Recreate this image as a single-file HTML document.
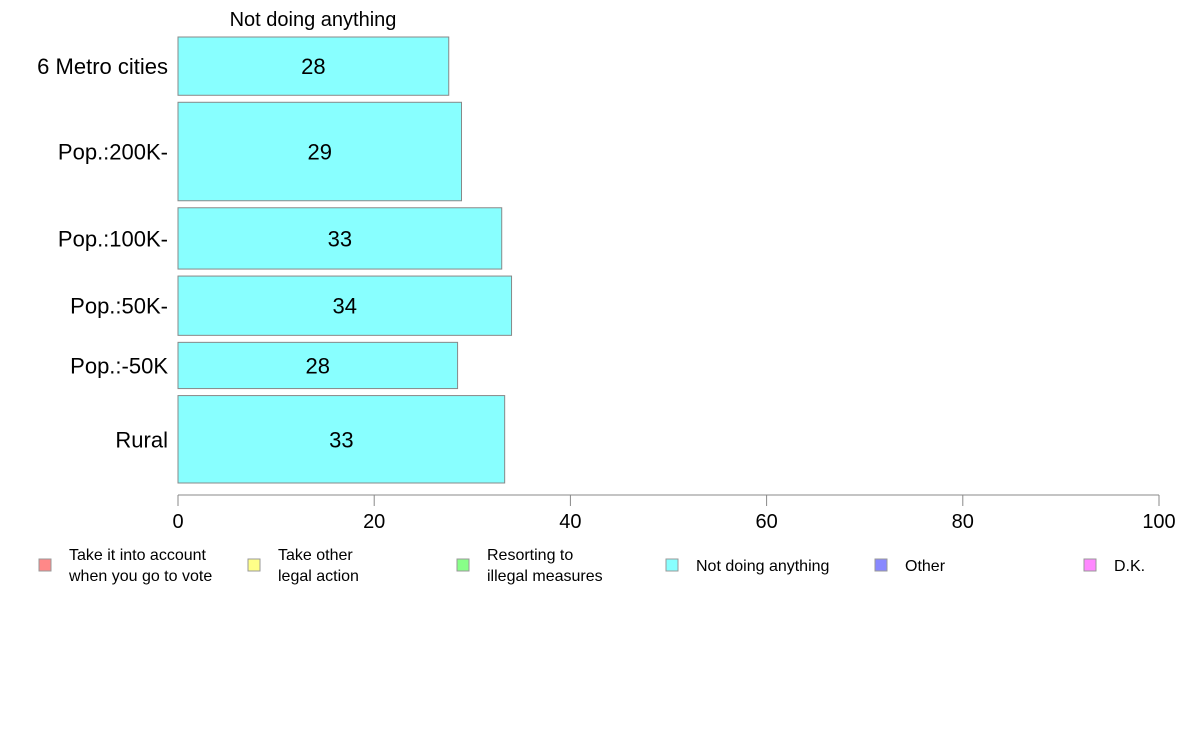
<!DOCTYPE html>
<html><head><meta charset="utf-8"><style>
body{margin:0;background:#fff;font-family:"Liberation Sans",Arial,sans-serif;}
svg text{font-family:"Liberation Sans",Arial,sans-serif;}
</style></head><body>
<svg id="chart" width="1188" height="736" xmlns="http://www.w3.org/2000/svg">
<rect width="1188" height="736" fill="#fff"/>
<text x="313" y="26" font-size="20" text-anchor="middle">Not doing anything</text>
<g id="bars"></g>
<g id="axis"></g>
<g id="legend"></g>
</svg>
<script>
const categories = ["6 Metro cities","Pop.:200K-","Pop.:100K-","Pop.:50K-","Pop.:-50K","Rural"];
const values = [27.6, 28.9, 33.0, 34.0, 28.5, 33.3];
const labels = ["28","29","33","34","28","33"];
const weights = [58, 98, 61, 59, 46, 87];
const ticks = [0,20,40,60,80,100];
const legendLabels = [["Take it into account","when you go to vote"],["Take other","legal action"],["Resorting to","illegal measures"],["Not doing anything"],["Other"],["D.K."]];
const legendColors = ["#ff8888","#ffff88","#88ff88","#88ffff","#8888ff","#ff88ff"];

const NS="http://www.w3.org/2000/svg";
const x0=178,x1=1159,yTop=37,yBot=483,gap=7;
const xs=v=>x0+(v/100)*(x1-x0);
function mk(t,a,p){const e=document.createElementNS(NS,t);for(const k in a)e.setAttribute(k,a[k]);p.appendChild(e);return e;}
const bars=document.getElementById('bars');
const totalW=weights.reduce((a,b)=>a+b,0);
const avail=(yBot-yTop)-gap*(categories.length-1);
let y=yTop;
categories.forEach((c,i)=>{
  const h=weights[i]/totalW*avail;
  const r=mk('rect',{x:x0,y:y,width:xs(values[i])-x0,height:h,fill:'#88ffff',stroke:'#888','stroke-width':1},bars);
  
  
  const t=mk('text',{x:(x0+xs(values[i]))/2,y:y+h/2+8,'font-size':22,'text-anchor':'middle'},bars);
  t.textContent=labels[i];
  
  
  const l=mk('text',{x:168,y:y+h/2+8,'font-size':22,'text-anchor':'end'},bars);
  l.textContent=c;
  
  
  y+=h+gap;
});
const ax=document.getElementById('axis');
const line=mk('line',{x1:x0,x2:x1,y1:495,y2:495,stroke:'#888'},ax);


ticks.forEach(v=>{
  const tk=mk('line',{x1:xs(v),x2:xs(v),y1:495,y2:506,stroke:'#888'},ax);
  
  
  const tl=mk('text',{x:xs(v),y:528,'font-size':20,'text-anchor':'middle'},ax);
  tl.textContent=v;
  
  
});
const lg=document.getElementById('legend');
const lx=[39,248,457,666,875,1084];
legendLabels.forEach((lines,i)=>{
  const g=mk('g',{},lg);
  
  
  mk('rect',{x:lx[i],y:559,width:12,height:12,fill:legendColors[i],stroke:'#999'},g);
  lines.forEach((s,j)=>{
    const yy=lines.length===1?571:560+j*21;
    const t=mk('text',{x:lx[i]+30,y:yy,'font-size':16},g);
    t.textContent=s;
  });
});
</script>
</body></html>
